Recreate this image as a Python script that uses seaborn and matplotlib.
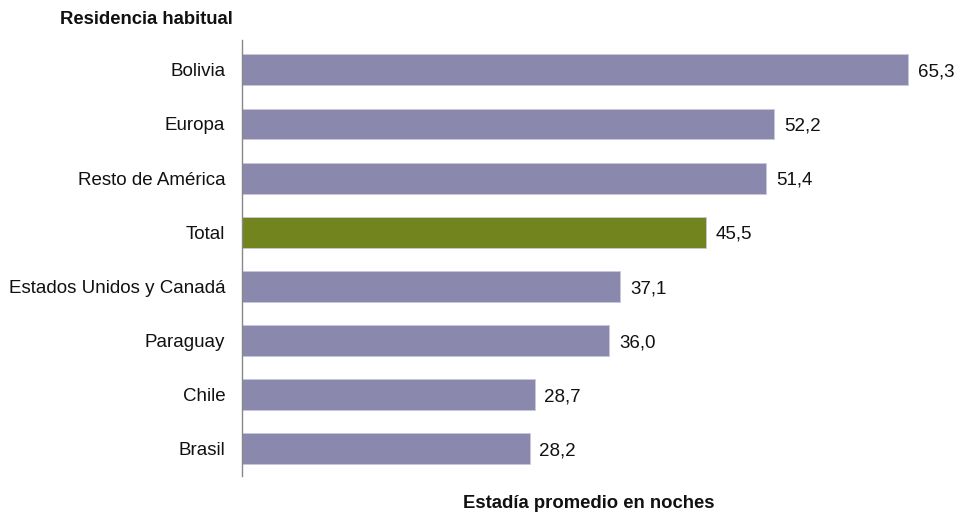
import pandas as pd
import matplotlib
matplotlib.use("Agg")
import matplotlib.pyplot as plt
import seaborn as sns

# --- DATA ---
regiones = ["Bolivia", "Europa", "Resto de América", "Total",
            "Estados Unidos y Canadá", "Paraguay", "Chile", "Brasil"]
noches = [65.3, 52.2, 51.4, 45.5, 37.1, 36.0, 28.7, 28.2]
grupo = ["pais", "pais", "pais", "total", "pais", "pais", "pais", "pais"]

df = pd.DataFrame({"region": regiones, "noches": noches, "grupo": grupo})

sns.set_theme(style="white")
plt.rcParams["font.family"] = ["Liberation Sans", "DejaVu Sans"]

fig = plt.figure(figsize=(9.61, 5.14), dpi=100)
ax = fig.add_axes([242 / 961, 1 - 476 / 514, 714 / 961, 436 / 514])

sns.barplot(data=df, y="region", x="noches", hue="grupo", orient="h",
            palette={"pais": "#8A88AD", "total": "#72841E"}, saturation=1,
            width=0.57, dodge=False, legend=False, ax=ax,
            edgecolor="#C9C8DA", linewidth=0.6)

ax.set_xlim(0, 70)
ax.set_ylim(7.5, -0.55)
ax.set_xticks([])
ax.set_xlabel("")
ax.set_ylabel("")
for s in ["top", "right", "bottom"]:
    ax.spines[s].set_visible(False)
ax.spines["left"].set_color("#888888")
ax.spines["left"].set_linewidth(1.0)
ax.tick_params(axis="y", length=0, pad=12, labelsize=13.5, labelcolor="#111111")

# value labels
for i, v in enumerate(noches):
    ax.text(v + 0.95, i + 0.04, f"{v:.1f}".replace(".", ","), va="center",
            ha="left", fontsize=13.5, color="#111111")

fig.text(60 / 961, 1 - 20 / 514, "Residencia habitual", fontsize=13.3,
         fontweight="bold", ha="left", va="center", color="#111111")
fig.text(589 / 961, 1 - 504 / 514, "Estadía promedio en noches", fontsize=13.3,
         fontweight="bold", ha="center", va="center", color="#111111")

fig.savefig("out.png", dpi=100)
